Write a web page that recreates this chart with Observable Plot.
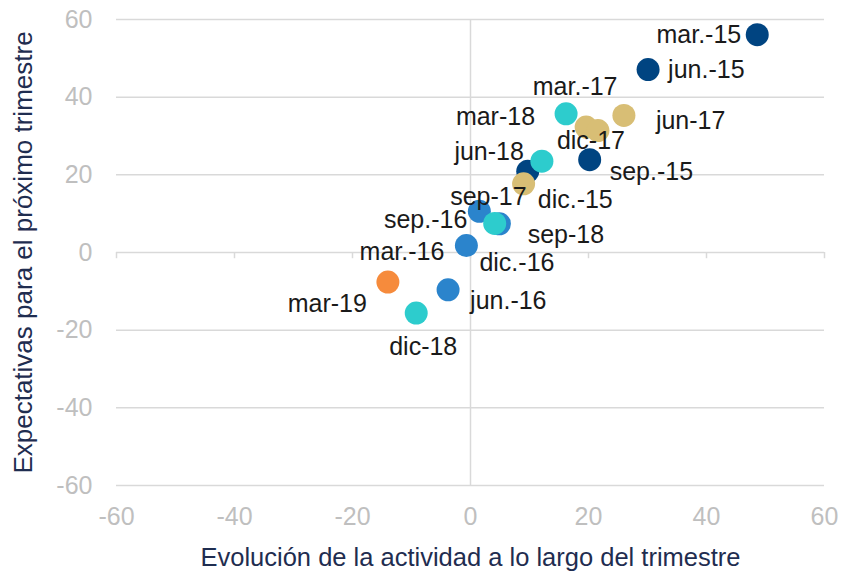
<!DOCTYPE html>
<html>
<head>
<meta charset="utf-8">
<script src="https://cdn.jsdelivr.net/npm/d3@7"></script>
<script src="https://cdn.jsdelivr.net/npm/@observablehq/plot@0.6"></script>
<style>
  body { margin: 0; background: #fff; }
</style>
</head>
<body>
<div id="chart"></div>
<script>
const periods = ["mar.-15","jun.-15","sep.-15","dic.-15","mar.-16","jun.-16","sep.-16","dic.-16","mar.-17","jun-17","sep-17","dic-17","mar-18","jun-18","sep-18","dic-18","mar-19"];
const years = [2015,2015,2015,2015,2016,2016,2016,2016,2017,2017,2017,2017,2018,2018,2018,2018,2019];
const actividad = [48.6,30.1,20.2,9.7,-0.7,-3.8,1.5,4.9,19.6,26.0,9.0,21.6,16.2,12.1,4.1,-9.2,-14.0];
const expectativas = [56.1,47.1,23.9,20.9,1.8,-9.6,10.6,7.4,32.3,35.3,17.7,31.4,35.7,23.5,7.5,-15.6,-7.6];
const xTicks = [-60,-40,-20,0,20,40,60];
const yTicks = [-60,-40,-20,0,20,40,60];
const yearDomain = [2015,2016,2017,2018,2019];
const yearColors = ["#004481","#2b84cc","#d8be75","#2dcccd","#f68b3c"];

// label placement (anchor, dx, dy in px) — styling only
const labelPlacement = {
  "mar.-15": ["end", -16, 0],
  "jun.-15": ["start", 20, 0],
  "sep.-15": ["start", 20, 12],
  "dic.-15": ["start", 10, 29],
  "mar.-16": ["end", -22, 6],
  "jun.-16": ["start", 22, 11],
  "sep.-16": ["end", -12, 9],
  "dic.-16": ["start", -20, 39],
  "mar.-17": ["middle", -11, -40],
  "jun-17": ["start", 32, 6],
  "sep-17": ["end", 3, 13],
  "dic-17": ["middle", -7, 10],
  "mar-18": ["end", -31, 3],
  "jun-18": ["end", -18, -9],
  "sep-18": ["start", 33, 12],
  "dic-18": ["middle", 7, 34],
  "mar-19": ["end", -21, 22]
};

const data = periods.map((p, i) => ({periodo: p, year: years[i], x: actividad[i], y: expectativas[i]}));

const labelMarks = data.map(d => {
  const [anchor, dx, dy] = labelPlacement[d.periodo];
  return Plot.text([d], {x: "x", y: "y", text: "periodo", textAnchor: anchor, dx, dy,
    fontSize: 25, fill: "#1a1a1a", lineAnchor: "middle"});
});

const chart = Plot.plot({
  width: 844,
  height: 572,
  marginLeft: 116,
  marginRight: 20,
  marginTop: 19,
  marginBottom: 87,
  style: {fontFamily: "'Liberation Sans', Arial, sans-serif", background: "#fff"},
  x: {domain: [-60, 60]},
  y: {domain: [-60, 60]},
  color: {domain: yearDomain, range: yearColors},
  marks: [
    Plot.ruleY(yTicks, {stroke: "#d9d9d9", strokeWidth: 1.5}),
    Plot.ruleX([0], {stroke: "#d9d9d9", strokeWidth: 1.5}),
    Plot.ruleX(xTicks, {x: d => d, y1: 0, y2: -1.6, stroke: "#d9d9d9", strokeWidth: 1.5}),
    Plot.axisX(xTicks, {tickSize: 0, tickPadding: 22, fontSize: 25, color: "#bfbfbf",
      tickFormat: d => String(d),
      label: "Evolución de la actividad a lo largo del trimestre", labelAnchor: "center",
      labelArrow: "none", labelOffset: 80}),
    Plot.axisY(yTicks, {tickSize: 0, tickPadding: 24, fontSize: 25, color: "#bfbfbf",
      tickFormat: d => String(d),
      label: "Expectativas para el próximo trimestre", labelAnchor: "center",
      labelArrow: "none", labelOffset: 103}),
    Plot.dot(data, {x: "x", y: "y", r: 11.5, fill: "year", stroke: null}),
    ...labelMarks
  ]
});

document.getElementById("chart").appendChild(chart);
// axis label colours and sizes
chart.querySelectorAll('[aria-label="x-axis label"] text').forEach(t => {
  t.setAttribute("fill", "#1f2d50");
  t.style.fontSize = "25.5px";
});
chart.querySelectorAll('[aria-label="y-axis label"] text').forEach(t => {
  t.setAttribute("fill", "#1f2d50");
  t.style.fontSize = "26px";
});
</script>
</body>
</html>
